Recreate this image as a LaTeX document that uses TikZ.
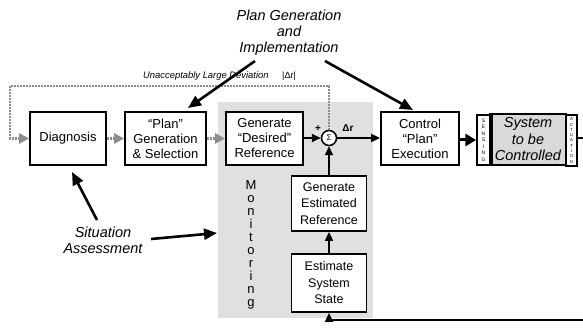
\documentclass[tikz,border=0pt]{standalone}
\usepackage{fontspec}
\setmainfont{Liberation Sans}
\usetikzlibrary{arrows.meta}
\begin{document}
\begin{tikzpicture}[x=1pt,y=-1pt,
  box/.style={draw,line width=1.8pt,fill=white,align=center,inner sep=0pt,font=\fontsize{13}{15}\selectfont},
  flow/.style={line width=1.8pt,-{Triangle[length=9pt,width=8pt]}},
  heavy/.style={line width=3pt,-{Triangle[length=11pt,width=12pt]}},
  bigarrow/.style={line width=2.6pt,-{Triangle[length=13pt,width=11pt]}},
  dots/.style={draw=black!45,line width=2.6pt,dash pattern=on 2pt off 1pt},
  dotarrow/.style={dots,-{Triangle[length=10pt,width=10pt,color=black!45,fill=black!40]}},
  lbl/.style={font=\itshape\fontsize{14.5}{16}\selectfont,align=center,inner sep=0pt},
  strip/.style={draw,line width=1.5pt,fill=white,inner sep=0pt,align=center}]
\useasboundingbox (0,0) rectangle (583,331);
\clip (0,0) rectangle (583,331);
% monitoring background
\node[fill=black!12,minimum width=155pt,minimum height=216pt,inner sep=0pt] (monbg) at (295.5,210) {};
\node[align=center,inner sep=0pt,font=\fontsize{13}{13}\selectfont] (mon) at (251,245) {M\\o\\n\\i\\t\\o\\r\\i\\n\\g};
% main boxes
\node[box,minimum width=76pt,minimum height=53pt] (diag) at (68,138.5) {Diagnosis};
\node[box,minimum width=81pt,minimum height=53pt] (plan) at (165.5,138.5) {“Plan”\\Generation\\\& Selection};
\node[box,minimum width=77pt,minimum height=53pt] (gdr) at (264.5,138.5) {Generate\\“Desired”\\Reference};
\node[circle,draw,line width=1.5pt,fill=white,minimum size=15pt,inner sep=0pt,font=\fontsize{8}{8}\selectfont] (sig) at (329,138) {Σ};
\node[box,minimum width=78pt,minimum height=53pt] (ctrl) at (420,138.5) {Control\\“Plan”\\Execution};
\node[strip,minimum width=13pt,minimum height=50pt,font=\fontsize{5}{6.5}\selectfont] (sens) at (483.5,140) {S\\E\\N\\S\\I\\N\\G};
\node[draw,line width=1.5pt,fill=black!15,minimum width=76pt,minimum height=51pt,inner sep=0pt,align=center,font=\itshape\fontsize{14.5}{16.5}\selectfont] (sys) at (528,139.5) {System\\to be\\Controlled};
\fill ([xshift=-0.5pt]sys.north west) rectangle ([xshift=4pt]sys.south west);
\node[strip,minimum width=11pt,minimum height=51pt,font=\fontsize{4.3}{5.3}\selectfont] (act) at (571.5,140.5) {A\\C\\T\\U\\A\\T\\I\\O\\N};
\node[box,font=\fontsize{12.5}{16.5}\selectfont,minimum width=75pt,minimum height=55pt] (ger) at (329,203.5) {Generate\\Estimated\\Reference};
\node[box,font=\fontsize{12.5}{16.5}\selectfont,minimum width=75pt,minimum height=58pt] (ess) at (329,283) {Estimate\\System\\State};
% labels
\node[font=\bfseries\fontsize{10}{10}\selectfont,inner sep=0pt] (plus) at (318,129) {+};
\node[font=\bfseries\fontsize{10}{10}\selectfont,inner sep=0pt] (dr) at (348,128) {Δr};
\node[anchor=west,inner sep=0pt,font=\itshape\fontsize{9.4}{10}\selectfont] (dev) at (143,76) {Unacceptably Large Deviation};
\node[inner sep=0pt,font=\fontsize{9}{10}\selectfont] (absdr) at (289,76) {|Δr|};
\node[lbl] (pgi) at (289,33) {Plan Generation\\and\\Implementation};
\node[lbl] (sa) at (103,240) {Situation\\Assessment};
% connectors
\draw[flow] (gdr.east |- sig.west) -- (sig.west);
\draw[flow] (sig.east) -- (ctrl.west |- sig.east);
\draw[heavy] (ctrl.east |- sens.west) -- (sens.west);
\draw[flow] (ger.north) -- (sig.south);
\draw[flow] (ess.north) -- (ger.south);
\coordinate (fbR) at (592,138);
\coordinate (fbB) at (592,320);
\draw[flow] (act.east |- fbR) -- (fbR) -- (fbB) -| (ess.south);
% dotted loop
\coordinate (dl) at (10,86);
\draw[dots] (sig.north) |- (dl);
\draw[dotarrow] (dl) |- (diag.west);
\draw[dotarrow] (diag.east) -- (plan.west);
\draw[dotarrow] (plan.east) -- (gdr.west);
% commentary arrows
\coordinate (t1) at (255,61); \coordinate (h1) at (188,108);
\coordinate (t2) at (325,61); \coordinate (h2) at (413,110);
\coordinate (t3) at (97,220); \coordinate (h3) at (72,172);
\coordinate (t4) at (151,239); \coordinate (h4) at (217,233);
\draw[bigarrow] (t1) -- (h1);
\draw[bigarrow] (t2) -- (h2);
\draw[bigarrow] (t3) -- (h3);
\draw[bigarrow] (t4) -- (h4);
\end{tikzpicture}
\end{document}
